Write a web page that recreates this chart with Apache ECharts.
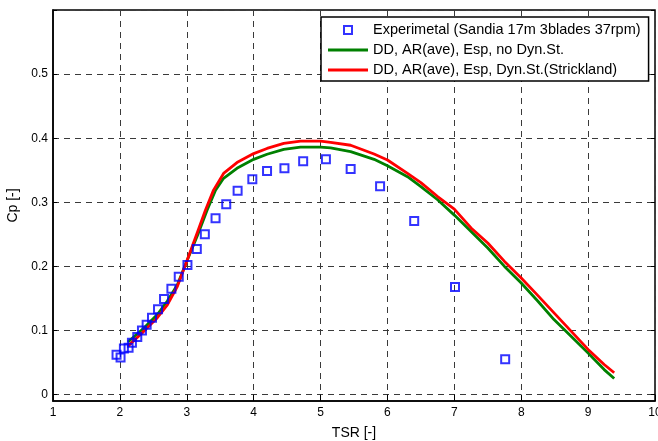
<!DOCTYPE html>
<html>
<head>
<meta charset="utf-8">
<script src="https://cdn.jsdelivr.net/npm/echarts@6/dist/echarts.min.js"></script>
<style>
html,body{margin:0;padding:0;background:#fff;}
#chart{width:658px;height:441px;}
</style>
</head>
<body>
<div id="chart"></div>
<script>
var seriesNames = [
  'Experimetal (Sandia 17m 3blades 37rpm)',
  'DD, AR(ave), Esp, no Dyn.St.',
  'DD, AR(ave), Esp, Dyn.St.(Strickland)'
];
var xTicks = [1,2,3,4,5,6,7,8,9,10];
var yTicks = [0,0.1,0.2,0.3,0.4,0.5,0.6];

var expTSR = [1.95,2.01,2.06,2.13,2.18,2.26,2.33,2.40,2.48,2.57,2.66,2.77,2.88,3.01,3.15,3.27,3.43,3.59,3.76,3.98,4.20,4.46,4.74,5.08,5.45,5.89,6.40,7.01,7.76];
var expCp  = [0.062,0.058,0.072,0.073,0.081,0.090,0.100,0.109,0.120,0.133,0.149,0.165,0.184,0.202,0.227,0.250,0.275,0.297,0.318,0.336,0.349,0.353,0.364,0.367,0.352,0.325,0.271,0.168,0.055];

var noDsTSR = [2.12,2.36,2.56,2.71,2.86,3.00,3.155,3.305,3.43,3.55,3.75,4.00,4.20,4.45,4.70,5.00,5.15,5.45,5.80,6.00,6.30,6.50,6.75,7.00,7.25,7.50,7.75,8.00,8.25,8.49,8.745,9.00,9.24,9.39];
var noDsCp  = [0.082,0.104,0.125,0.146,0.1715,0.208,0.247,0.288,0.319,0.3375,0.353,0.367,0.375,0.3826,0.386,0.386,0.385,0.379,0.367,0.357,0.340,0.3245,0.304,0.280,0.2545,0.2286,0.200,0.174,0.1456,0.117,0.091,0.065,0.039,0.025];

var dsTSR = [2.12,2.36,2.56,2.71,2.86,3.00,3.155,3.28,3.40,3.55,3.75,4.00,4.20,4.45,4.70,5.00,5.15,5.45,5.80,6.00,6.30,6.50,6.75,7.00,7.25,7.50,7.75,8.00,8.25,8.49,8.745,9.00,9.24,9.39];
var dsCp  = [0.0756,0.099,0.120,0.140,0.169,0.208,0.252,0.288,0.319,0.345,0.362,0.376,0.384,0.392,0.3955,0.3955,0.3935,0.389,0.3753,0.366,0.345,0.3307,0.309,0.2893,0.260,0.2364,0.2078,0.182,0.1544,0.1275,0.099,0.0705,0.047,0.034];

function pairs(xs, ys){ return xs.map(function(x,i){ return [x, ys[i]]; }); }

var FONT = 'Liberation Sans, Arial, sans-serif';
var gridLine = {show:true, lineStyle:{color:'#3a3a3a', type:[6,5], width:1}};
var lineIcon = 'path://M0,0L40,0L40,3L0,3Z';
var squareIcon = 'path://M0,0L10,0L10,10L0,10Z';

var chart = echarts.init(document.getElementById('chart'), null, {renderer:'canvas'});
chart.setOption({
  animation:false,
  backgroundColor:'#ffffff',
  grid:{left:53, right:3, top:10, bottom:40, show:true, borderColor:'#000', borderWidth:1.5,
        backgroundColor:'transparent', containLabel:false, outerBoundsMode:'none'},
  legend:{
    left:321, top:17, orient:'vertical',
    backgroundColor:'#ffffff', borderColor:'#000', borderWidth:1.5,
    padding:[5,8,3,7], itemGap:4, itemWidth:40, itemHeight:8,
    symbolKeepAspect:true,
    textStyle:{fontFamily:FONT, fontSize:14.5, lineHeight:16, color:'#000'},
    data:[
      {name:seriesNames[0], icon:squareIcon, itemStyle:{color:'#ffffff', borderColor:'#0000ff', borderWidth:2}},
      {name:seriesNames[1], icon:lineIcon, itemStyle:{color:'#008000', borderWidth:0}},
      {name:seriesNames[2], icon:lineIcon, itemStyle:{color:'#ff0000', borderWidth:0}}
    ]
  },
  xAxis:[{
    type:'value', min:xTicks[0], max:xTicks[xTicks.length-1], interval:1,
    name:'TSR [-]', nameLocation:'middle', nameGap:25,
    nameTextStyle:{fontFamily:FONT, fontSize:14, color:'#000'},
    axisLine:{show:true, onZero:false, lineStyle:{color:'#000', width:1.5}},
    axisTick:{show:true, inside:true, length:4, lineStyle:{color:'#000'}},
    axisLabel:{fontFamily:FONT, fontSize:12, color:'#000', margin:6, hideOverlap:false},
    splitLine:gridLine
  },{
    type:'value', position:'top', min:xTicks[0], max:xTicks[xTicks.length-1], interval:1,
    axisLine:{show:false}, axisTick:{show:true, inside:true, length:4, lineStyle:{color:'#000'}},
    axisLabel:{show:false}, splitLine:{show:false}
  }],
  yAxis:[{
    type:'value', min:-0.01, max:0.6,
    name:'Cp [-]', nameLocation:'middle', nameGap:32, nameRotate:90,
    nameTextStyle:{fontFamily:FONT, fontSize:14, color:'#000'},
    axisLine:{show:true, onZero:false, lineStyle:{color:'#000', width:1.5}},
    axisTick:{show:true, inside:true, length:4, customValues:yTicks, lineStyle:{color:'#000'}},
    axisLabel:{fontFamily:FONT, fontSize:12, color:'#000', margin:5,
      customValues:yTicks.slice(0, yTicks.length-1),
      formatter:function(v){ return String(Math.round(v*10)/10); }},
    splitLine:gridLine
  },{
    type:'value', position:'right', min:-0.01, max:0.6,
    axisLine:{show:false},
    axisTick:{show:true, inside:true, length:4, customValues:yTicks, lineStyle:{color:'#000'}},
    axisLabel:{show:false}, splitLine:{show:false}
  }],
  series:[
    {name:seriesNames[1], type:'line', xAxisIndex:0, yAxisIndex:0, data:pairs(noDsTSR,noDsCp), showSymbol:false, symbol:'none',
      lineStyle:{color:'#008000', width:2.8}, itemStyle:{color:'#008000'}, z:3},
    {name:seriesNames[2], type:'line', xAxisIndex:0, yAxisIndex:0, data:pairs(dsTSR,dsCp), showSymbol:false, symbol:'none',
      lineStyle:{color:'#ff0000', width:2.8}, itemStyle:{color:'#ff0000'}, z:4},
    {name:seriesNames[0], type:'scatter', xAxisIndex:0, yAxisIndex:0, data:pairs(expTSR,expCp), symbol:'rect', symbolSize:8,
      itemStyle:{color:'rgba(0,0,0,0)', borderColor:'#0000ff', borderWidth:2}, z:5}
  ]
});
</script>
</body>
</html>
